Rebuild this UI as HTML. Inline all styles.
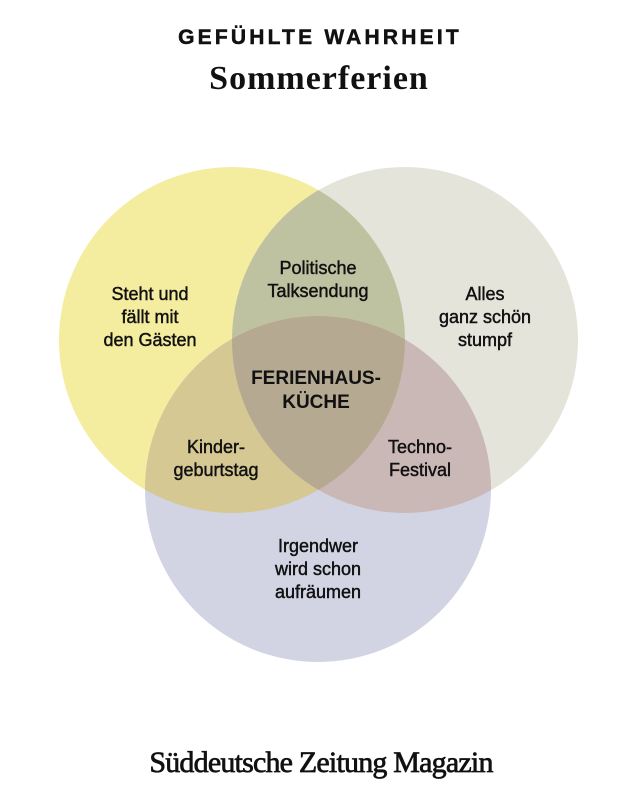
<!DOCTYPE html>
<html><head><meta charset="utf-8"><style>
body{margin:0;width:640px;height:800px;background:#fff;overflow:hidden}
</style></head><body>
<svg width="640" height="800" viewBox="0 0 640 800" xmlns="http://www.w3.org/2000/svg">
<defs>
<clipPath id="cy"><circle cx="232" cy="340" r="173"/></clipPath>
<clipPath id="cg"><circle cx="405" cy="340" r="173"/></clipPath>
</defs>
<circle cx="232" cy="340" r="173" fill="#f4ec9f"/>
<circle cx="405" cy="340" r="173" fill="#e4e4da"/>
<circle cx="318" cy="489" r="173" fill="#d3d4e3"/>
<g clip-path="url(#cy)"><circle cx="405" cy="340" r="173" fill="#bfc2a0"/><circle cx="318" cy="489" r="173" fill="#d5c893"/></g>
<g clip-path="url(#cg)"><circle cx="318" cy="489" r="173" fill="#cab8b6"/></g>
<g clip-path="url(#cy)"><g clip-path="url(#cg)"><circle cx="318" cy="489" r="173" fill="#b5a992"/></g></g>
<g font-family="Liberation Sans, sans-serif" text-anchor="middle" fill="#111">
<text x="320" y="44" font-size="21" font-weight="bold" letter-spacing="3.2" stroke="#111" stroke-width="0.5">GEFÜHLTE WAHRHEIT</text>
<text x="319" y="89" font-family="Liberation Serif, serif" font-size="34" font-weight="bold" letter-spacing="1">Sommerferien</text>
<g font-size="18" stroke="#111" stroke-width="0.45">
<text x="150" y="300">Steht und</text><text x="150" y="323">fällt mit</text><text x="150" y="346">den Gästen</text>
<text x="318" y="274">Politische</text><text x="318" y="297">Talksendung</text>
<text x="485" y="300">Alles</text><text x="485" y="323">ganz schön</text><text x="485" y="346">stumpf</text>
<text x="216" y="453">Kinder-</text><text x="216" y="476">geburtstag</text>
<text x="420" y="453">Techno-</text><text x="420" y="476">Festival</text>
<text x="318" y="552">Irgendwer</text><text x="318" y="575">wird schon</text><text x="318" y="598">aufräumen</text>
</g>
<g font-weight="bold" font-size="19"><text x="316" y="384">FERIENHAUS-</text><text x="316" y="408">KÜCHE</text></g>
<text x="321" y="772" font-family="Liberation Serif, serif" font-size="30" letter-spacing="-0.8" stroke="#111" stroke-width="0.7">Süddeutsche Zeitung Magazin</text>
</g>
</svg>
</body></html>
